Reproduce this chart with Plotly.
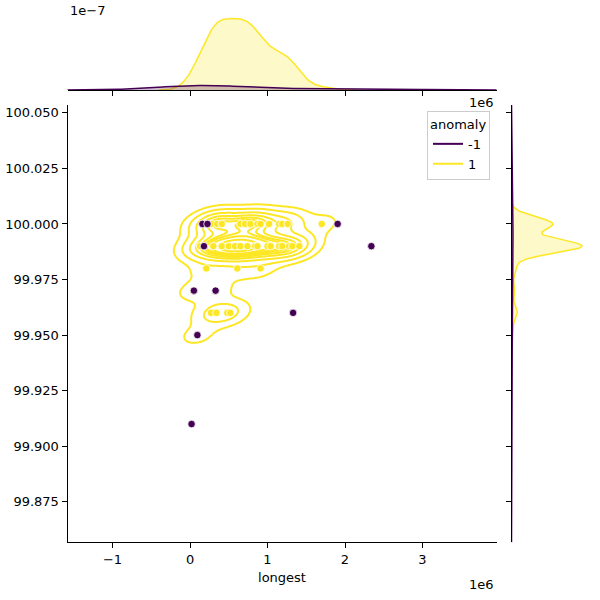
import numpy as np
import plotly.graph_objects as go

# ---------------- data (x in units of 1e6) ----------------
# anomaly = 1 (normal) points, with multiplicity (overlapping points);
# the last five sit underneath anomaly markers
normal_x = [0.28, 0.35, 0.41, 0.65, 0.71, 0.78, 0.87, 0.91, 1.02, 1.15, 1.19, 1.26, 1.70,
            0.13, 0.30, 0.41, 0.50, 0.58, 0.65, 0.74, 0.84, 0.87, 1.00, 1.04, 1.15, 1.19, 1.28, 1.32, 1.41,
            0.21, 0.61, 0.91,
            0.27, 0.34, 0.48, 0.52,
            0.16, 0.18, 0.05, 0.33, 0.095]
normal_y = ([100.00] * 13 + [99.99] * 16 + [99.98] * 3 + [99.96] * 4 +
            [100.00, 99.99, 99.97, 99.97, 99.95])
normal_n = [3, 3, 3, 3, 3, 2, 2, 2, 1, 1, 1, 2, 1,
            3, 4, 4, 4, 4, 4, 4, 3, 3, 2, 2, 2, 2, 2, 2, 2,
            1, 1, 1,
            1, 1, 1, 1,
            1, 1, 1, 1, 1]

# anomaly = -1 points
anom_x = [0.16, 0.225, 1.905, 0.18, 2.34, 0.05, 0.33, 1.33, 0.095, 0.02]
anom_y = [100.00, 100.00, 100.00, 99.99, 99.99, 99.97, 99.97, 99.96, 99.95, 99.91]

x_ticks = [-1, 0, 1, 2, 3]
x_tick_text = ["\u22121", "0", "1", "2", "3"]
y_ticks = [99.875, 99.900, 99.925, 99.950, 99.975, 100.000, 100.025, 100.050]

SCALE = 1e6
C_ANOM = "#440154"
C_NORM = "#fde725"

# ---------------- KDE helpers (seaborn-like) ----------------
def kde_cov(data, adjust):
    d, n = data.shape
    factor = n ** (-1.0 / (d + 4))
    a = np.diag(np.atleast_1d(adjust)[:d])
    return a @ (np.atleast_2d(np.cov(data)) * factor ** 2) @ a


def kde_eval(data, pts, adjust):
    d, n = data.shape
    cov = kde_cov(data, adjust)
    inv = np.linalg.inv(cov)
    norm = np.sqrt(np.linalg.det(2 * np.pi * cov))
    diff = pts[:, :, None] - data[:, None, :]
    q = np.einsum('imn,ij,jmn->mn', diff, inv, diff)
    return np.exp(-0.5 * q).sum(axis=1) / n / norm


nx_full = np.repeat(np.array(normal_x), normal_n)
ny_full = np.repeat(np.array(normal_y), normal_n)
ax_full = np.array(anom_x)
ay_full = np.array(anom_y)
N_tot = len(nx_full) + len(ax_full)

# name, colour, x, y, share of all points, bandwidth adjustment (x, y)
groups = [
    ("-1", C_ANOM, ax_full, ay_full, len(ax_full) / N_tot, (1.0, 1.0)),
    ("1", C_NORM, nx_full, ny_full, len(nx_full) / N_tot, (1.0, 0.75)),
]

# bivariate densities on per-group grids
biv = {}
for name, col, gx, gy, frac, adj in groups:
    data = np.vstack([gx, gy])
    bw = np.sqrt(np.diag(kde_cov(data, adj)))
    sx = np.linspace(gx.min() - 3 * bw[0], gx.max() + 3 * bw[0], 200)
    sy = np.linspace(gy.min() - 3 * bw[1], gy.max() + 3 * bw[1], 200)
    xx, yy = np.meshgrid(sx, sy)
    dens = kde_eval(data, np.vstack([xx.ravel(), yy.ravel()]), adj)
    biv[name] = (sx, sy, dens.reshape(xx.shape) * frac)

# common iso-proportion levels
allv = np.concatenate([v[2].ravel() for v in biv.values()])
sv = np.sort(allv)[::-1]
cum = np.cumsum(sv) / allv.sum()
iso = np.linspace(0.05, 1, 10)
levels = np.take(sv, np.searchsorted(cum, 1 - iso), mode="clip")
levels = np.unique(levels)
gmax = allv.max()
levels = levels[levels < gmax]

def uni(vals, frac, adj):
    data = vals[None, :]
    bw = np.sqrt(kde_cov(data, adj)[0, 0])
    g = np.linspace(vals.min() - 3 * bw, vals.max() + 3 * bw, 200)
    dens = kde_eval(data, g[None, :], adj)
    return g, dens * frac

def rgba(hexc, a):
    h = hexc.lstrip('#')
    r, g, b = int(h[0:2], 16), int(h[2:4], 16), int(h[4:6], 16)
    return f"rgba({r},{g},{b},{a})"

fig = go.Figure()

# contours
xp = np.concatenate([[0.0], levels, [gmax * 1.01 + 1e-12]])
fp = np.arange(len(xp), dtype=float)
for name, col, gx, gy, frac, adj in groups:
    sx, sy, dens = biv[name]
    z = np.interp(dens, xp, fp)
    if z.max() < 1:
        continue
    fig.add_trace(go.Contour(
        x=sx * SCALE, y=sy, z=z,
        contours=dict(coloring="lines", start=1, end=len(levels), size=1, showlabels=False),
        autocontour=False, colorscale=[[0, col], [1, col]], showscale=False,
        line=dict(width=2, smoothing=0.9), hoverinfo="skip", showlegend=False,
        xaxis="x", yaxis="y"))

# scatter (anomalies drawn last, on top)
fig.add_trace(go.Scatter(x=np.array(normal_x) * SCALE, y=normal_y, mode="markers",
                         marker=dict(color=C_NORM, size=7.5, line=dict(color="white", width=0.8)),
                         showlegend=False, xaxis="x", yaxis="y"))
fig.add_trace(go.Scatter(x=np.array(anom_x) * SCALE, y=anom_y, mode="markers",
                         marker=dict(color=C_ANOM, size=7.5, line=dict(color="white", width=0.8)),
                         showlegend=False, xaxis="x", yaxis="y"))

# marginals (yellow first, purple on top)
top_max = 0
right_max = 0
for name, col, gx, gy, frac, adj in reversed(groups):
    g, d = uni(gx, frac, adj[0])
    top_max = max(top_max, d.max())
    fig.add_trace(go.Scatter(x=g * SCALE, y=d, mode="lines", fill="tozeroy",
                             fillcolor=rgba(col, 0.25), line=dict(color=col, width=1.5),
                             showlegend=False, hoverinfo="skip", xaxis="x2", yaxis="y2"))
    g, d = uni(gy, frac, adj[1])
    right_max = max(right_max, d.max())
    fig.add_trace(go.Scatter(x=d, y=g, mode="lines", fill="tozerox",
                             fillcolor=rgba(col, 0.25), line=dict(color=col, width=1.5),
                             showlegend=False, hoverinfo="skip", xaxis="x3", yaxis="y3"))

# legend entries
for name, col, *_ in groups:
    fig.add_trace(go.Scatter(x=[None], y=[None], mode="lines", name=name,
                             line=dict(color=col, width=2), xaxis="x", yaxis="y"))

W = H = 600
def px_x(p):
    return p / W
def px_y(p):
    return 1 - p / H

XR = [-1.581e6, 3.955e6]
YR = [99.8568, 100.0535]
FONT = dict(family="DejaVu Sans", size=13, color="black")

axis_common = dict(showgrid=False, zeroline=False, showline=True, linecolor="black",
                   linewidth=1, ticks="outside", ticklen=5, tickcolor="black", tickwidth=1,
                   tickfont=FONT)

fig.update_layout(
    width=W, height=H, margin=dict(l=0, r=0, t=0, b=0),
    plot_bgcolor="white", paper_bgcolor="white", font=FONT,
    xaxis=dict(domain=[px_x(67.5), px_x(496.5)], range=XR, anchor="y",
               tickvals=[t * SCALE for t in x_ticks], ticktext=x_tick_text,
               title=dict(text="longest", font=FONT, standoff=6), **axis_common),
    yaxis=dict(domain=[px_y(542.3), px_y(105)], range=YR, anchor="x",
               tickvals=y_ticks, tickformat=".3f", **axis_common),
    xaxis2=dict(domain=[px_x(67.5), px_x(496.5)], range=XR, anchor="y2",
                tickvals=[t * SCALE for t in x_ticks], showticklabels=False, **axis_common),
    yaxis2=dict(domain=[px_y(90), px_y(15)], range=[0, top_max * 1.05], anchor="x2",
                visible=False),
    xaxis3=dict(domain=[px_x(511.5), px_x(585.5)], range=[0, right_max * 1.05], anchor="y3",
                visible=False),
    yaxis3=dict(domain=[px_y(542.3), px_y(105)], range=YR, anchor="x3",
                tickvals=y_ticks, showticklabels=False, **axis_common),
    legend=dict(title=dict(text="anomaly", font=FONT), font=FONT,
                x=px_x(490), xanchor="right", y=px_y(111), yanchor="top",
                bordercolor="#cccccc", borderwidth=1, bgcolor="rgba(255,255,255,0.8)",
                itemwidth=30),
    annotations=[
        dict(text="1e\u22127", x=px_x(68), y=px_y(1), xref="paper", yref="paper",
             xanchor="left", yanchor="top", showarrow=False, font=FONT),
        dict(text="1e6", x=px_x(496), y=px_y(93), xref="paper", yref="paper",
             xanchor="right", yanchor="top", showarrow=False, font=FONT),
        dict(text="1e6", x=px_x(496), y=px_y(575), xref="paper", yref="paper",
             xanchor="right", yanchor="top", showarrow=False, font=FONT),
    ],
)

fig.write_html("out.html")
